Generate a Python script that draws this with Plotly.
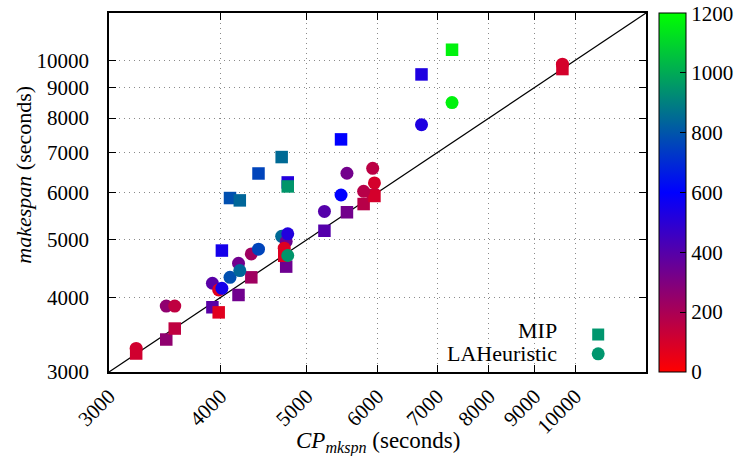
import numpy as np
import plotly.graph_objects as go

# CP makespan (x), MIP makespan, LAHeuristic makespan, colour value
cp_mkspn = [3218, 3478, 3555, 3918, 3982, 4015, 4100, 4191, 4205, 4332, 4413, 4685, 4740,
            4716, 4759, 4759, 5232, 5461, 5545, 5789, 5926, 5953, 6722, 7273, 9671]
mip = [3222, 3401, 3548, 3852, 3777, 4795, 5873, 4039, 5820, 4324, 6457, 6880, 4507,
       4700, 6238, 6142, 5176, 7366, 5559, 5738, 5942, 5920, 9466, 10413, 9664]
laheur = [3286, 3870, 3870, 4226, 4118, 4145, 4324, 4566, 4438, 4733, 4820, 5065, 4966,
          4840, 5116, 4704, 5577, 5942, 6463, 6028, 6587, 6227, 7797, 8491, 9849]
cval = [110, 260, 150, 390, 70, 550, 785, 335, 840, 225, 760, 850, 340,
        80, 520, 950, 400, 600, 330, 170, 160, 100, 530, 1170, 100]

tick_vals = [3000, 4000, 5000, 6000, 7000, 8000, 9000, 10000]
tick_text = [str(v) for v in tick_vals]
cbar_ticks = [0, 200, 400, 600, 800, 1000, 1200]
axis_min, axis_max = 3000, 12000

FONT = "Liberation Serif, Times New Roman, DejaVu Serif, serif"
cscale = [[0.0, "rgb(255,0,0)"], [0.5, "rgb(0,0,255)"], [1.0, "rgb(0,255,0)"]]

fig = go.Figure()

fig.add_trace(go.Scatter(x=[axis_min, axis_max], y=[axis_min, axis_max], mode="lines",
                         line=dict(color="black", width=1.2), showlegend=False,
                         hoverinfo="skip"))

fig.add_trace(go.Scatter(
    x=cp_mkspn, y=mip, mode="markers", name="MIP", showlegend=False,
    marker=dict(symbol="square", size=12.5, color=cval, cmin=-0.5, cmax=1200.5,
                colorscale=cscale, line=dict(width=0),
                colorbar=dict(thickness=27, len=1.0, lenmode="fraction", y=0.5,
                              yanchor="middle", x=1.0242, xanchor="left",
                              outlinecolor="black", outlinewidth=1,
                              tickvals=cbar_ticks, ticks="inside", ticklen=6,
                              tickcolor="black", ticklabelposition="outside",
                              ticklabeloverflow="allow", tickprefix=" ",
                              tickfont=dict(family=FONT, size=21, color="black"),
                              xpad=0, ypad=0))))

fig.add_trace(go.Scatter(
    x=cp_mkspn, y=laheur, mode="markers", name="LAHeuristic", showlegend=False,
    marker=dict(symbol="circle", size=13, color=cval, cmin=-0.5, cmax=1200.5,
                colorscale=cscale, line=dict(width=0), showscale=False)))

ax_common = dict(type="log", range=[np.log10(axis_min), np.log10(axis_max)],
                 tickvals=tick_vals, ticktext=tick_text, ticks="inside", ticklen=7,
                 tickcolor="black", showline=True, linecolor="black", linewidth=1.5,
                 mirror="ticks", showgrid=True, gridcolor="#8a8a8a", griddash="1px,4px",
                 gridwidth=1, zeroline=False, automargin=False,
                 tickfont=dict(family=FONT, size=21, color="black"))

fig.update_xaxes(**ax_common, tickangle=-45, ticklabelstandoff=2)
fig.update_yaxes(**ax_common, ticklabelstandoff=14)

# legend drawn inside the plot (text right, symbol at right)
leg_col = "rgb(0,150,110)"
fig.add_shape(type="rect", xref="paper", yref="paper", xsizemode="pixel", ysizemode="pixel",
              xanchor=0.911, yanchor=0.1044, x0=-6, x1=6, y0=-6, y1=6,
              fillcolor=leg_col, line=dict(width=0))
fig.add_shape(type="circle", xref="paper", yref="paper", xsizemode="pixel", ysizemode="pixel",
              xanchor=0.911, yanchor=0.0505, x0=-6.5, x1=6.5, y0=-6.5, y1=6.5,
              fillcolor=leg_col, line=dict(width=0))
fig.add_annotation(text="MIP", xref="paper", yref="paper", x=0.838, y=0.1150,
                   xanchor="right", yanchor="middle", showarrow=False,
                   font=dict(family=FONT, size=22, color="black"))
fig.add_annotation(text="LAHeuristic", xref="paper", yref="paper", x=0.838, y=0.0520,
                   xanchor="right", yanchor="middle", showarrow=False,
                   font=dict(family=FONT, size=22, color="black"))

# axis titles
fig.add_annotation(text="<i>CP</i><sub><i>mkspn</i></sub> (seconds)", xref="paper", yref="paper",
                   x=0.5, y=-0.15, xanchor="center", yanchor="top", showarrow=False,
                   font=dict(family=FONT, size=23, color="black"))
fig.add_annotation(text="<i>makespan</i> (seconds)", xref="paper", yref="paper",
                   x=-0.16, y=0.55, xanchor="center", yanchor="middle", textangle=-90,
                   showarrow=False, font=dict(family=FONT, size=22, color="black"))

fig.update_layout(width=744, height=456,
                  margin=dict(l=109, r=98, t=13, b=84, autoexpand=False),
                  paper_bgcolor="white", plot_bgcolor="white", showlegend=False)

fig.write_html("out.html", config={"displayModeBar": False},
               post_script="document.body.style.margin='0';")
